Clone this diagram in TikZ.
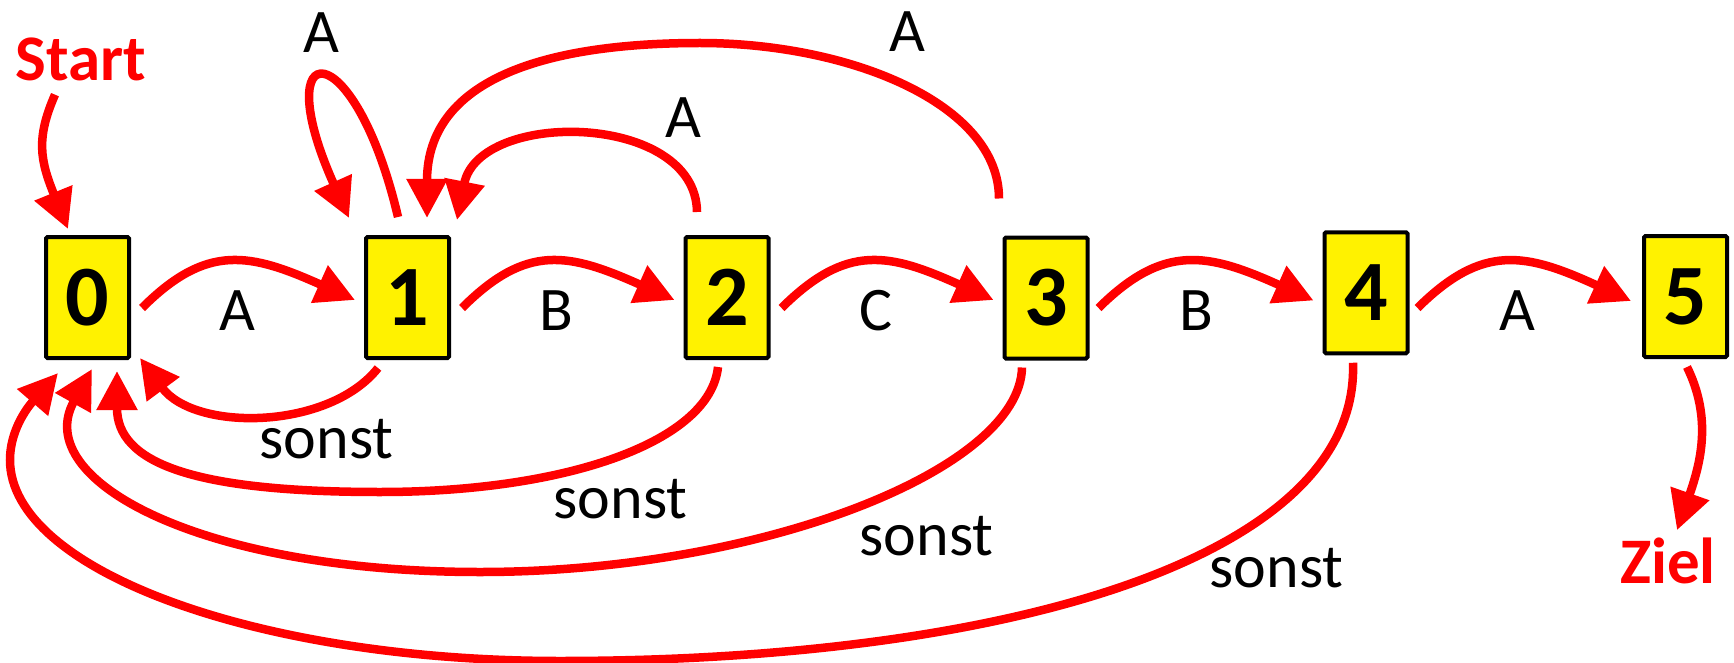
\documentclass[tikz,border=0pt]{standalone}
\usepackage{fontspec}
\setmainfont{Carlito}
\usetikzlibrary{arrows.meta,calc}
\begin{document}
\begin{tikzpicture}[x=1pt,y=-1pt,
  box/.style={draw=black, line width=4pt, fill=yellow, rounded corners=1.5pt,
    minimum width=83pt, minimum height=121pt, inner sep=0pt,
    font=\bfseries\fontsize{86}{86}\selectfont},
  lbl/.style={anchor=base, inner sep=0pt, font=\fontsize{62}{62}\selectfont},
  redlbl/.style={anchor=base, inner sep=0pt, text=red, font=\bfseries\fontsize{65}{65}\selectfont},
  edge/.style={draw=red, line width=8.5pt, -{Triangle[length=39pt,width=39pt]}},
]
\useasboundingbox (0,0) rectangle (1734,663);

% states
\node[box] (n0) at (87.5,297.5) {0};
\node[box] (n1) at (407.5,297.5) {1};
\node[box] (n2) at (727,297.5) {2};
\node[box] (n3) at (1046,298) {3};
\node[box] (n4) at (1366,292.75) {4};
\node[box] (n5) at (1685.5,296.5) {5};

% start / goal
\node[redlbl] (start) at (80.5,81) {Start};
\node[redlbl] (ziel) at (1668,583) {Ziel};

% labels
\node[lbl] (l01) at (237,330) {A};
\node[lbl] (l12) at (556,330) {B};
\node[lbl] (l23) at (876,330) {C};
\node[lbl] (l34) at (1196,330) {B};
\node[lbl] (l45) at (1517,330) {A};
\node[lbl] (l11) at (321,53) {A};
\node[lbl] (l21) at (683.5,138) {A};
\node[lbl] (l31) at (907,52) {A};
\node[lbl] (s10) at (326.5,458) {sonst};
\node[lbl] (s20) at (620.5,518) {sonst};
\node[lbl] (s30) at (926.5,555) {sonst};
\node[lbl] (s40) at (1276.5,587) {sonst};

% start and goal arrows
\draw[edge] ($(start.south)+(-25.5,13)$) .. controls (36,138) and (40,160) .. ($(n0.north)+(-19.5,-6)$);
\draw[edge] ($(n5.south)+(1.5,8)$) .. controls (1712,418) and (1701,462) .. ($(ziel.north)+(9,-7)$);

% forward transitions
\draw[edge] ($(n0.east)+(11,10.5)$) .. controls (207,243) and (250,253) .. ($(n1.west)+(-9,2.5)$);
\draw[edge] ($(n1.east)+(11,10.5)$) .. controls (527,243) and (569,253) .. ($(n2.west)+(-9,2.5)$);
\draw[edge] ($(n2.east)+(11,10.5)$) .. controls (847,243) and (889,253) .. ($(n3.west)+(-9,2)$);
\draw[edge] ($(n3.east)+(9,10)$) .. controls (1164,243) and (1208,253) .. ($(n4.west)+(-9,7.75)$);
\draw[edge] ($(n4.east)+(8,15.25)$) .. controls (1483,243) and (1526,253) .. ($(n5.west)+(-11,4.5)$);

% A transitions back to 1
\draw[edge] ($(n1.north)+(-9.5,-18)$) .. controls (354,30) and (266,33) .. ($(n1.north)+(-58.5,-17)$);
\draw[edge] ($(n2.north)+(-30,-23)$) .. controls (696,112) and (479,109) .. ($(n1.north)+(49.5,-15)$);
\draw[edge] ($(n3.north)+(-47,-37)$) .. controls (999,104) and (850,43) .. (700,43)
   .. controls (550,43) and (427,77) .. ($(n1.north)+(19.5,-17)$);

% sonst transitions back to 0
\draw[edge] ($(n1.south)+(-29.5,8)$) .. controls (329,430) and (195,432) .. ($(n0.south)+(52.5,-2)$);
\draw[edge] ($(n2.south)+(-9,7)$) .. controls (710,442) and (566,492) .. (380,492)
   .. controls (190,492) and (117,462) .. ($(n0.south)+(29.5,11)$);
\draw[edge] ($(n3.south)+(-24,7)$) .. controls (1020,470) and (760,572) .. (480,572)
   .. controls (200,572) and (30,480) .. ($(n0.south)+(4.5,9)$);
\draw[edge] ($(n4.south)+(-13,7.5)$) .. controls (1360,560) and (1000,661) .. (560,661)
   .. controls (257,661) and (10,570) .. (10,460)
   .. controls (10,420) and (41.6,392) .. ($(n0.south)+(-29.5,13)$);
\end{tikzpicture}
\end{document}
